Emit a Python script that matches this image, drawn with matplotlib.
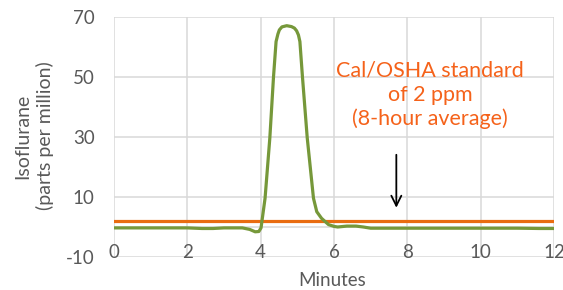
import matplotlib
matplotlib.use("Agg")
import matplotlib.pyplot as plt

plt.rcParams['font.family'] = ['Lato', 'DejaVu Sans']
plt.rcParams['axes.unicode_minus'] = False

minutes = [0, 0.5, 1, 1.5, 2, 2.4, 2.7, 3.0, 3.5, 3.7, 3.85, 3.95, 4.01, 4.12, 4.25,
           4.35, 4.42, 4.47, 4.51, 4.58, 4.71, 4.84, 4.92, 4.98, 5.03, 5.07, 5.14, 5.27,
           5.44, 5.53, 5.66, 5.85, 6.0, 6.1, 6.35, 6.6, 6.8, 7.0, 7.5, 8, 9, 10, 11, 11.6, 12]
isoflurane = [-0.3, -0.3, -0.3, -0.3, -0.3, -0.5, -0.5, -0.3, -0.3, -0.8, -1.6, -1.5, -0.3, 9.6, 29.7,
              50, 61.8, 64.3, 65.7, 66.7, 67.1, 66.8, 66.3, 65.4, 64.0, 61.8, 50, 29.7,
              9.6, 5.1, 2.9, 0.8, 0.2, 0, 0.3, 0.3, 0, -0.4, -0.4, -0.4, -0.4, -0.4, -0.4, -0.5, -0.5]
standard_ppm = 2
x_ticks = [0, 2, 4, 6, 8, 10, 12]
y_ticks = [-10, 10, 30, 50, 70]

fig = plt.figure(figsize=(5.63, 2.90), dpi=100)
ax = fig.add_axes([0.2025, 0.1138, 0.7815, 0.8276])

grid_c = '#d9d9d9'
for x in x_ticks:
    ax.axvline(x, color=grid_c, lw=1.1, zorder=0)
for y in y_ticks:
    ax.axhline(y, color=grid_c, lw=1.1, zorder=0)
ax.axhline(0, color=grid_c, lw=1.1, zorder=0)

ax.plot(minutes, isoflurane, color='#76983a', lw=2.3, solid_joinstyle='round', zorder=3)
ax.axhline(standard_ppm, color='#e96c10', lw=2.3, zorder=2)

ax.set_xlim(0, 12)
ax.set_ylim(-10, 70)
ax.set_xticks(x_ticks)
ax.set_yticks(y_ticks)
for s in ax.spines.values():
    s.set_visible(False)
ax.tick_params(axis='both', length=0, labelsize=13.5, labelcolor='#595959')
ax.tick_params(axis='x', pad=-9)
ax.tick_params(axis='y', pad=14)

fig.text(34/563, 0.531, 'Isoflurane\n(parts per million)', rotation=90, ha='center', va='center',
         fontsize=14, color='#595959', linespacing=1.35)
fig.text(332/563, 1 - 280/290, 'Minutes', ha='center', va='center', fontsize=13.5, color='#595959')

fig.text(430/563, 1 - 95/290, 'Cal/OSHA standard\nof 2 ppm\n(8-hour average)', ha='center', va='center',
         fontsize=15.5, color='#f5621a', linespacing=1.25)

ax.annotate('', xy=(7.7, 5.5), xytext=(7.7, 25),
            arrowprops=dict(arrowstyle='->', color='black', lw=1.3, mutation_scale=18))

fig.savefig('out.png', dpi=100)
